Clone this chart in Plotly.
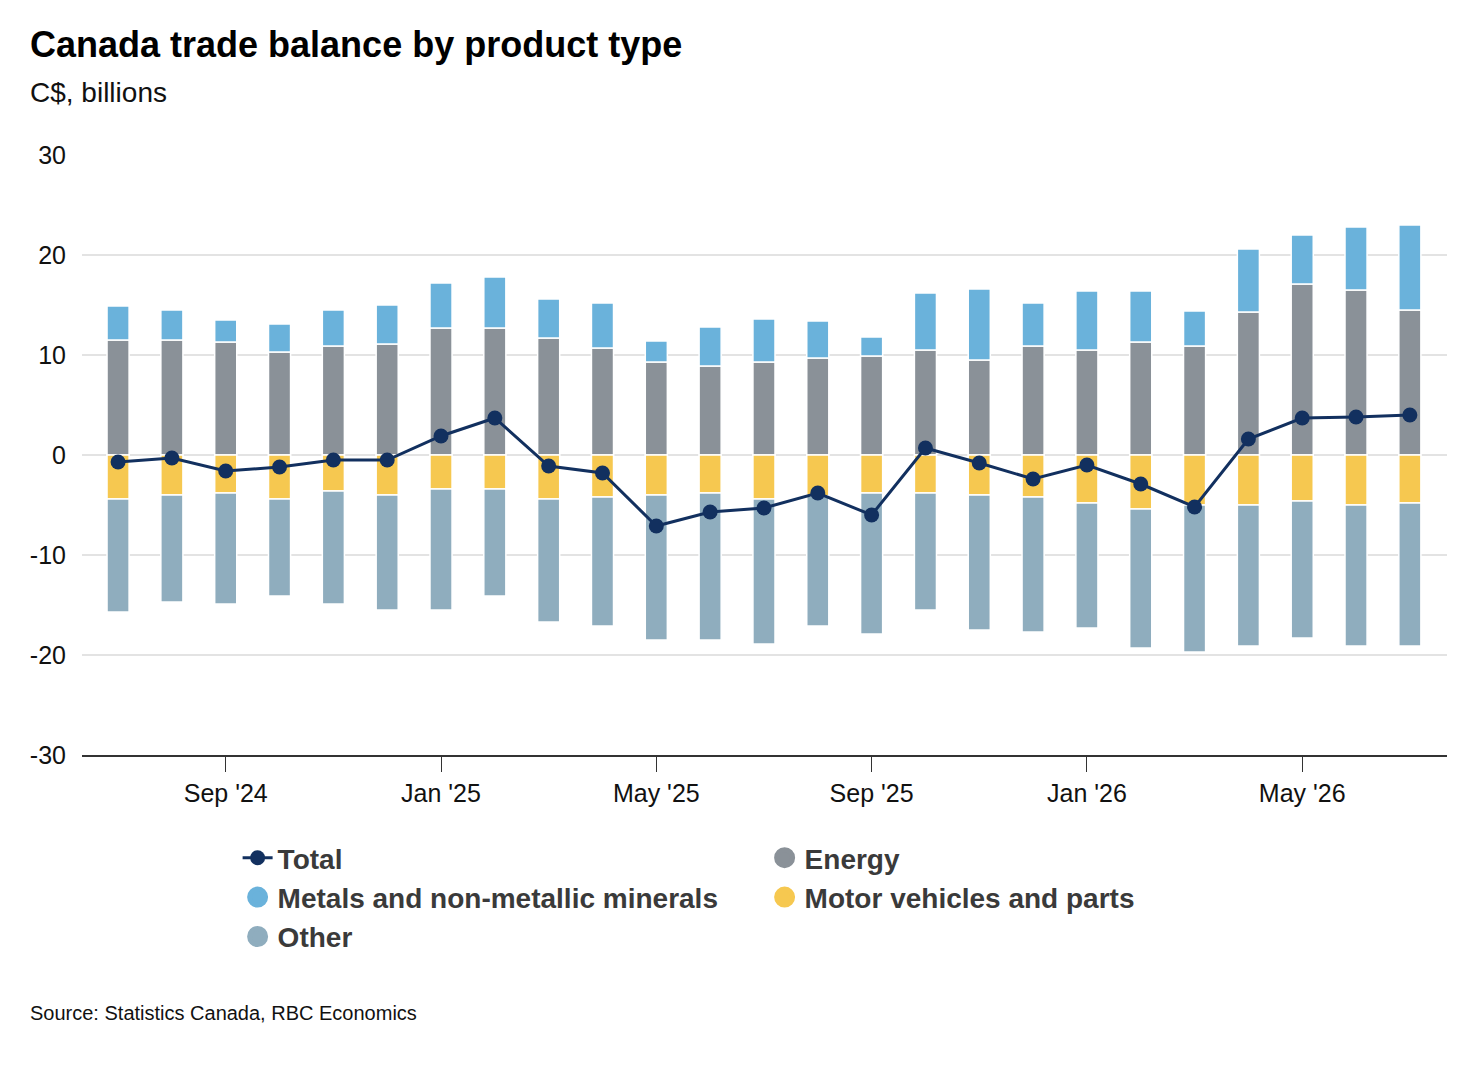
import plotly.graph_objects as go

# monthly categories, Jul '24 .. Jul '26
months = ["Jul '24", "Aug '24", "Sep '24", "Oct '24", "Nov '24", "Dec '24",
          "Jan '25", "Feb '25", "Mar '25", "Apr '25", "May '25", "Jun '25",
          "Jul '25", "Aug '25", "Sep '25", "Oct '25", "Nov '25", "Dec '25",
          "Jan '26", "Feb '26", "Mar '26", "Apr '26", "May '26", "Jun '26",
          "Jul '26"]

energy = [11.5, 11.5, 11.3, 10.3, 10.9, 11.1, 12.7, 12.7, 11.7, 10.7, 9.3, 8.9,
          9.3, 9.7, 9.9, 10.5, 9.5, 10.9, 10.5, 11.3, 10.9, 14.3, 17.1, 16.5, 14.5]
metals = [3.4, 3.0, 2.2, 2.8, 3.6, 3.9, 4.5, 5.1, 3.9, 4.5, 2.1, 3.9,
          4.3, 3.7, 1.9, 5.7, 7.1, 4.3, 5.9, 5.1, 3.5, 6.3, 4.9, 6.3, 8.5]
motor = [-4.4, -4.0, -3.8, -4.4, -3.6, -4.0, -3.4, -3.4, -4.4, -4.2, -4.0, -3.8,
         -4.4, -4.1, -3.8, -3.8, -4.0, -4.2, -4.8, -5.4, -5.0, -5.0, -4.6, -5.0, -4.8]
other = [-11.3, -10.7, -11.1, -9.7, -11.3, -11.5, -12.1, -10.7, -12.3, -12.9, -14.5, -14.7,
         -14.5, -13.0, -14.1, -11.7, -13.5, -13.5, -12.5, -13.9, -14.7, -14.1, -13.7, -14.1, -14.3]
total = [-0.7, -0.3, -1.6, -1.2, -0.5, -0.5, 1.9, 3.7, -1.1, -1.8, -7.1, -5.7,
         -5.3, -3.8, -6.0, 0.7, -0.8, -2.4, -1.0, -2.9, -5.2, 1.6, 3.7, 3.8, 4.0]

tick_months = ["Sep '24", "Jan '25", "May '25", "Sep '25", "Jan '26", "May '26"]
y_ticks = [-30, -20, -10, 0, 10, 20, 30]
y_labels = ['-30', '-20', '-10', '0', '10', '20', '30']

COLORS = {
    'energy': '#8a9198',
    'metals': '#6ab2db',
    'motor': '#f6c850',
    'other': '#8fadbe',
    'total': '#12305f',
    'text': '#111111',
    'legend': '#3a3a3a',
}
FONT = "Liberation Sans, Arial, Helvetica, sans-serif"

fig = go.Figure()

bar_series = [
    ('Energy', energy, COLORS['energy']),
    ('Metals and non-metallic minerals', metals, COLORS['metals']),
    ('Motor vehicles and parts', motor, COLORS['motor']),
    ('Other', other, COLORS['other']),
]
for name, vals, col in bar_series:
    fig.add_trace(go.Bar(
        x=months, y=vals, name=name, width=0.41,
        marker=dict(color=col, line=dict(color='white', width=1.5)),
        showlegend=False,
    ))

fig.add_trace(go.Scatter(
    x=months, y=total, name='Total', mode='lines+markers',
    line=dict(color=COLORS['total'], width=3),
    marker=dict(color=COLORS['total'], size=15),
))

# legend entries drawn as round swatches like the original
for name, vals, col in bar_series:
    fig.add_trace(go.Scatter(
        x=[None], y=[None], name=name, mode='markers',
        marker=dict(color=col, size=16, symbol='circle', line=dict(color=col, width=5)),
    ))

fig.update_layout(
    barmode='relative',
    width=1480, height=1072,
    margin=dict(l=74, r=41, t=147, b=325),
    paper_bgcolor='white', plot_bgcolor='white',
    font=dict(family=FONT, color=COLORS['text'], size=25),
    legend=dict(
        orientation='h', x=0.114, y=-0.13, xanchor='left', yanchor='top',
        entrywidth=482, entrywidthmode='pixels', itemsizing='trace',
        font=dict(size=28, color=COLORS['legend'], family=FONT, weight='bold'),
        tracegroupgap=0, traceorder='normal',
    ),
    annotations=[
        dict(text='<b>Canada trade balance by product type</b>', xref='paper', yref='paper',
             x=-54 / 1365, y=(755 - 45) / 600, xanchor='left', yanchor='middle',
             showarrow=False, font=dict(size=36, color='#000000')),
        dict(text='C$, billions', xref='paper', yref='paper',
             x=-54 / 1365, y=(755 - 92) / 600, xanchor='left', yanchor='middle',
             showarrow=False, font=dict(size=28, color='#111111')),
        dict(text='Source: Statistics Canada, RBC Economics', xref='paper', yref='paper',
             x=-54 / 1365, y=(755 - 1013) / 600, xanchor='left', yanchor='middle',
             showarrow=False, font=dict(size=20, color='#111111')),
    ],
)

fig.update_xaxes(
    type='category', categoryorder='array', categoryarray=months,
    range=[-0.67, 24.69],
    tickmode='array', tickvals=tick_months, ticktext=tick_months,
    ticks='outside', ticklen=15, tickwidth=1.2, tickcolor='#333333',
    showline=True, linecolor='#333333', linewidth=1.5,
    showgrid=False, tickfont=dict(size=25),
)
fig.update_yaxes(
    range=[-30, 30], tickmode='array', tickvals=y_ticks, ticktext=y_labels,
    showgrid=True, gridcolor='#e3e3e3', gridwidth=1.5,
    zeroline=False, showline=False, ticks='',
    ticklabelstandoff=15, tickfont=dict(size=25),
)

fig.write_html("out.html")
